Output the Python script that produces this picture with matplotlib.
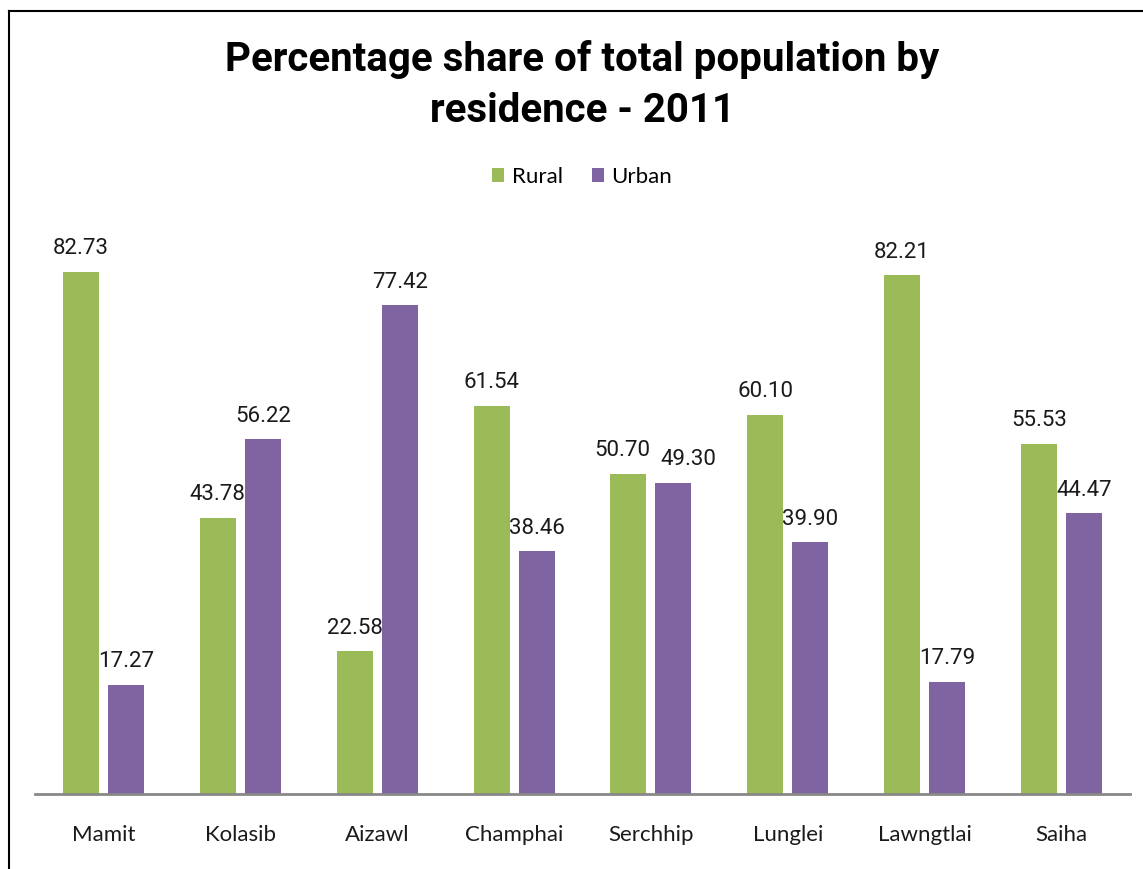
import numpy as np
import matplotlib.pyplot as plt
from matplotlib.lines import Line2D

districts = ['Mamit', 'Kolasib', 'Aizawl', 'Champhai', 'Serchhip', 'Lunglei', 'Lawngtlai', 'Saiha']
rural = [82.73, 43.78, 22.58, 61.54, 50.70, 60.10, 82.21, 55.53]
urban = [17.27, 56.22, 77.42, 38.46, 49.30, 39.90, 17.79, 44.47]

fig = plt.figure(figsize=(11.43, 8.69), dpi=100)
ax = fig.add_axes([35/1143, 75/869, 1095/1143, 568/869])

x = np.arange(len(districts))
bw = 0.263
off = 0.1645
b1 = ax.bar(x - off, rural, width=bw, color='#9BBB59', label='Rural')
b2 = ax.bar(x + off, urban, width=bw, color='#8064A2', label='Urban')

val_font = dict(fontsize=16, family=['Roboto', 'DejaVu Sans'], color='#1a1a1a')
for i in range(len(districts)):
    # nudge labels apart when the two bars are nearly equal (as Excel does)
    close = abs(rural[i] - urban[i]) < 5
    for b, v, nud in ((b1[i], rural[i], -0.045), (b2[i], urban[i], 0.11)):
        xc = b.get_x() + b.get_width()/2 + (nud if close else 0)
        ax.text(xc, v + 2.0, '%.2f' % v, ha='center', va='bottom', **val_font)

ax.set_xlim(-0.5, len(districts) - 0.5)
ax.set_ylim(0, 90)
ax.set_xticks(x)
ax.set_xticklabels(districts, fontsize=16, family=['Lato', 'DejaVu Sans'], color='#1a1a1a')
ax.tick_params(axis='x', length=0, pad=22)
ax.set_yticks([])
for s in ['top', 'right', 'left']:
    ax.spines[s].set_visible(False)
ax.spines['bottom'].set_color('#888888')
ax.spines['bottom'].set_linewidth(2)

fig.text(582/1143, 1 - 85/869, 'Percentage share of total population by\nresidence - 2011',
         ha='center', va='center', fontsize=29, fontweight='bold', linespacing=1.45,
         family=['Roboto', 'DejaVu Sans'])

fig.legend(handles=[b1, b2], loc='center', bbox_to_anchor=(582/1143, 1 - 177/869), ncol=2,
           frameon=False, prop={'family': ['Lato', 'DejaVu Sans'], 'size': 16},
           handlelength=0.55, handleheight=0.55, handletextpad=0.35, columnspacing=1.3)

# outer border (left + top)
fig.add_artist(Line2D([9/1143, 9/1143], [0, 1 - 11/869], color='black', lw=1.5, transform=fig.transFigure))
fig.add_artist(Line2D([9/1143, 1], [1 - 11/869, 1 - 11/869], color='black', lw=1.5, transform=fig.transFigure))

fig.savefig('out.png', dpi=100)
